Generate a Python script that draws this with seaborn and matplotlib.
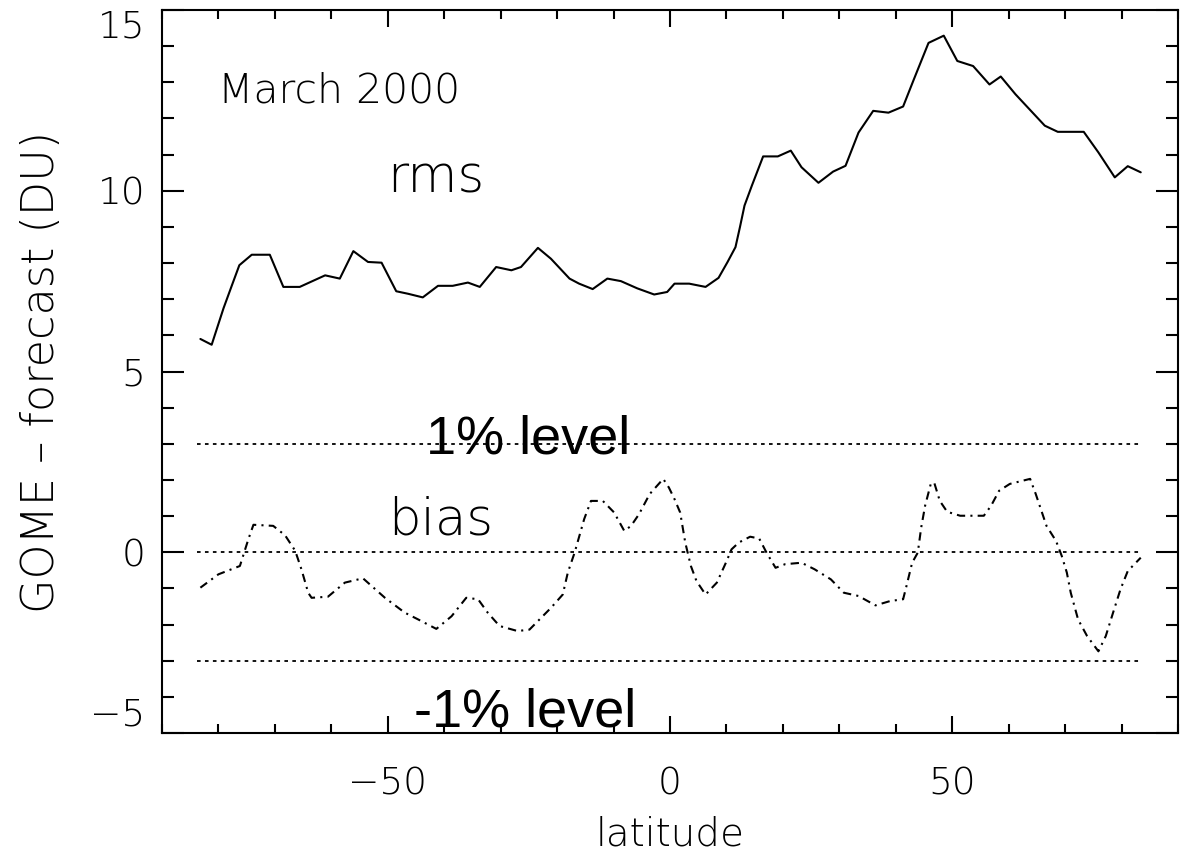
import matplotlib
matplotlib.use("Agg")
import matplotlib.pyplot as plt
import seaborn as sns
import pandas as pd
from matplotlib.ticker import FixedLocator, MultipleLocator

# ---- data ----
rms_lat = [-83.2, -81.2, -79.1, -77.6, -76.3, -74.1, -70.9, -68.5, -65.6, -61.1,
           -58.5, -56.1, -53.5, -51.1, -48.5, -46.4, -43.8, -41.1, -38.5, -35.8,
           -33.7, -30.8, -28.1, -26.4, -23.4, -21.1, -17.8, -16.1, -13.7, -11.1,
           -8.7, -5.8, -2.8, -0.5, 0.8, 3.4, 6.3, 8.6, 10.2, 11.6,
           12.4, 13.2, 14.5, 16.5, 19.1, 21.4, 23.3, 26.3, 28.9, 31.1,
           33.4, 36.0, 38.7, 41.3, 43.2, 45.8, 48.5, 50.9, 53.7, 56.6,
           58.6, 61.2, 66.4, 68.7, 73.3, 75.9, 78.8, 81.1, 83.4]
rms_val = [5.90, 5.74, 6.75, 7.39, 7.94, 8.23, 8.23, 7.34, 7.34, 7.66,
           7.57, 8.33, 8.03, 8.01, 7.22, 7.15, 7.05, 7.37, 7.37, 7.46,
           7.34, 7.89, 7.80, 7.89, 8.42, 8.12, 7.57, 7.43, 7.28, 7.57,
           7.50, 7.30, 7.13, 7.20, 7.43, 7.43, 7.34, 7.59, 8.03, 8.44,
           9.00, 9.59, 10.14, 10.95, 10.95, 11.11, 10.65, 10.22, 10.53, 10.69,
           11.61, 12.21, 12.16, 12.33, 13.08, 14.09, 14.29, 13.59, 13.45, 12.94,
           13.16, 12.67, 11.80, 11.63, 11.63, 11.06, 10.37, 10.68, 10.51]

bias_lat = [-83.2, -80.0, -76.2, -74.7, -73.8, -70.3, -68.2, -66.4, -65.3, -64.1,
            -63.5, -60.6, -57.6, -54.4, -50.5, -47.0, -44.6, -41.4, -38.7, -36.1,
            -34.0, -32.3, -30.2, -27.0, -24.9, -21.1, -19.0, -18.1, -16.9, -15.2,
            -14.0, -11.9, -9.9, -8.1, -6.9, -5.5, -3.6, -1.2, -0.2, 0.8,
            1.8, 2.7, 3.7, 4.7, 6.3, 8.3, 9.9, 10.9, 12.2, 14.2,
            15.8, 17.1, 18.7, 20.4, 23.3, 25.6, 28.5, 30.8, 33.4, 36.4,
            39.0, 41.3, 41.9, 42.9, 43.9, 44.5, 45.2, 46.2, 46.8, 47.8,
            49.1, 51.4, 55.6, 56.9, 58.3, 60.2, 63.8, 64.8, 66.7, 68.4,
            69.4, 70.3, 71.0, 72.3, 73.9, 75.9, 77.2, 78.5, 79.8, 81.1,
            83.4]
bias_val = [-0.98, -0.61, -0.38, 0.36, 0.76, 0.73, 0.47, 0.04, -0.47, -1.12,
            -1.26, -1.23, -0.84, -0.72, -1.26, -1.67, -1.86, -2.12, -1.77, -1.26,
            -1.30, -1.67, -2.04, -2.18, -2.14, -1.54, -1.17, -0.56, -0.01, 0.92,
            1.42, 1.42, 1.10, 0.59, 0.73, 1.05, 1.61, 2.03, 1.79, 1.47,
            1.10, 0.27, -0.38, -0.80, -1.17, -0.84, -0.29, 0.08, 0.27, 0.43,
            0.38, -0.01, -0.43, -0.33, -0.29, -0.47, -0.75, -1.12, -1.21, -1.47,
            -1.35, -1.30, -0.93, -0.29, -0.01, 0.68, 1.29, 1.89, 1.93, 1.42,
            1.12, 1.01, 1.01, 1.29, 1.70, 1.89, 2.03, 1.61, 0.73, 0.31,
            -0.10, -0.56, -1.12, -1.86, -2.32, -2.74, -2.32, -1.67, -1.03, -0.52,
            -0.15]

level_values = [3.0, 0.0, -3.0]
x_ticks = [-50, 0, 50]
y_ticks = [-5, 0, 5, 10, 15]

# ---- style ----
sns.set_style("ticks")
plt.rcParams["font.family"] = ["DejaVu Sans"]
plt.rcParams["font.weight"] = 200
plt.rcParams["axes.labelweight"] = 200
for k in ["text.color", "axes.labelcolor", "xtick.color", "ytick.color",
          "axes.edgecolor"]:
    plt.rcParams[k] = "black"

W, H = 1180, 851
fig = plt.figure(figsize=(W / 100, H / 100), dpi=100)
L, R, T, B = 162, 1178, 10, 733
ax = fig.add_axes([L / W, (H - B) / H, (R - L) / W, (B - T) / H])

rms_df = pd.DataFrame({"lat": rms_lat, "val": rms_val})
bias_df = pd.DataFrame({"lat": bias_lat, "val": bias_val})

sns.lineplot(data=rms_df, x="lat", y="val", ax=ax, color="black", lw=1.5,
             estimator=None, sort=False)
sns.lineplot(data=bias_df, x="lat", y="val", ax=ax, color="black", lw=1.5,
             estimator=None, sort=False, linestyle=(0, (4, 2.5, 1, 2.5)))

x0, x1 = bias_lat[0] - 0.6, bias_lat[-1]
for lv in level_values:
    lvl_df = pd.DataFrame({"lat": [x0, x1], "val": [lv, lv]})
    sns.lineplot(data=lvl_df, x="lat", y="val", ax=ax, color="black", lw=1.3,
                 estimator=None, sort=False, linestyle=(0, (2.0, 2.4)))

ax.set_xlim(-90, 90)
ax.set_ylim(-5, 15)
ax.xaxis.set_major_locator(FixedLocator(x_ticks))
ax.xaxis.set_minor_locator(MultipleLocator(10))
ax.yaxis.set_major_locator(FixedLocator(y_ticks))
ax.yaxis.set_minor_locator(MultipleLocator(1))

for s in ax.spines.values():
    s.set_visible(True)
    s.set_linewidth(1.5)
    s.set_color("black")

ax.tick_params(which="both", direction="in", top=True, right=True,
               width=1.5, color="black", labelcolor="black")
ax.tick_params(axis="x", which="major", length=12.2, pad=24, labelsize=27)
ax.tick_params(axis="x", which="minor", length=6.5)
ax.tick_params(axis="y", which="major", length=16, pad=12, labelsize=27)
ax.tick_params(axis="y", which="minor", length=8.6)

yt = ax.yaxis.get_major_ticks()
yt[0].label1.set_verticalalignment("bottom")
yt[-1].label1.set_verticalalignment("top")

ax.set_xlabel("latitude", fontsize=28, weight=200)
ax.xaxis.set_label_coords(0.5, (B - 815) / (B - T))
ax.set_ylabel("GOME – forecast (DU)", fontsize=32, weight=200)
ax.yaxis.set_label_coords((42 - L) / (R - L), 0.5)
ax.yaxis.label.set_verticalalignment("center")

ax.text(-80.1, 12.44, "March 2000", fontsize=29.5, va="baseline", ha="left")
ax.text(-50.2, 9.96, "rms", fontsize=37, va="baseline", ha="left")
ax.text(-49.9, 0.50, "bias", fontsize=37, va="baseline", ha="left")
ax.text(-43.2, 2.72, "1% level", fontsize=39, family="Liberation Sans",
        weight="normal", va="baseline", ha="left")
ax.text(-45.3, -4.83, "-1% level", fontsize=39, family="Liberation Sans",
        weight="normal", va="baseline", ha="left")

fig.savefig("out.png", dpi=100, facecolor="white")
